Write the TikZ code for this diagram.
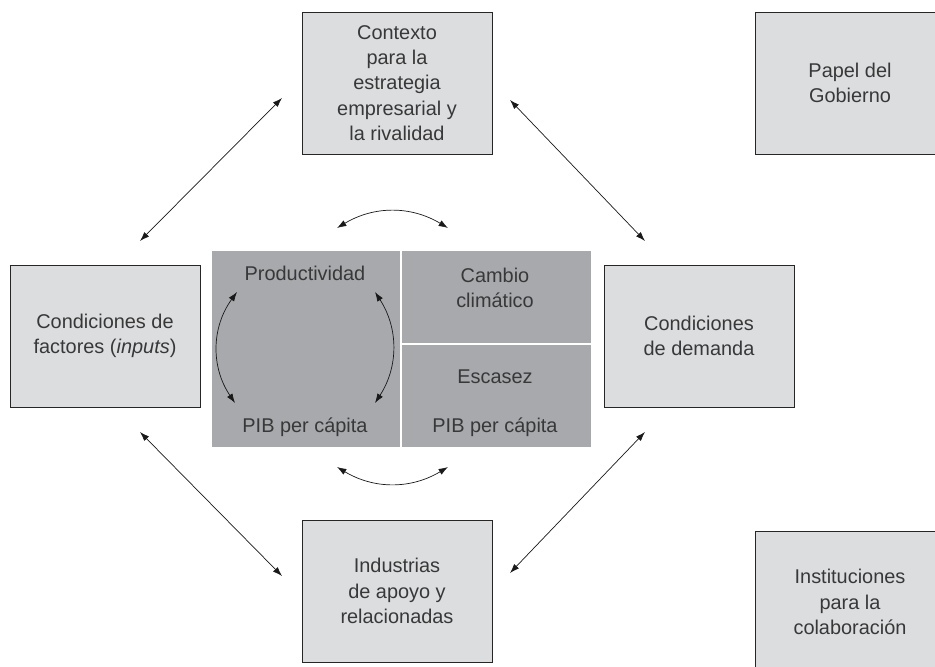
\documentclass[tikz,border=0pt]{standalone}
\usepackage{fontspec}
\setmainfont{Liberation Sans}
\usetikzlibrary{arrows.meta}

\definecolor{boxgray}{HTML}{DCDDDF}
\definecolor{panelgray}{HTML}{A7A9AC}
\definecolor{inkgray}{HTML}{383838}

\tikzset{
    factorbox/.style={draw=black!85, fill=boxgray, line width=0.7pt,
        minimum width=5.7cm, minimum height=4.26cm, inner sep=0pt,
        align=center, text=inkgray, font=\fontsize{17}{21.5}\selectfont},
    cell/.style={fill=panelgray, inner sep=0pt},
    celltext/.style={align=center, text=inkgray, inner sep=0pt,
        font=\fontsize{17}{21.5}\selectfont},
    link/.style={{Latex[length=8pt,width=5.5pt]}-{Latex[length=8pt,width=5.5pt]},
        line width=0.6pt, black!90},
}

\begin{document}
\begin{tikzpicture}[x=0.03cm,y=-0.03cm]
    \clip (0,0) rectangle (935,666);
    % central panel
    \node[cell, minimum width=5.64cm, minimum height=5.88cm] (leftcell) at (306,349) {};
    \node[cell, minimum width=5.67cm, minimum height=2.76cm] (climcell) at (496.5,297) {};
    \node[cell, minimum width=5.67cm, minimum height=3.06cm] (scarcell) at (496.5,396) {};
    \node[celltext] (prod) at (305,273) {Productividad};
    \node[celltext] (pibl) at (305,427) {PIB per cápita};
    \node[celltext] (clim) at (495,288) {Cambio\\climático};
    \node[celltext] (scar) at (495,377) {Escasez};
    \node[celltext] (pibr) at (495,427) {PIB per cápita};
    % the diamond
    \node[factorbox] (context) at (397,83) {Contexto\\para la\\estrategia\\empresarial y\\la rivalidad};
    \node[factorbox] (factors) at (105,336) {Condiciones de\\factores (\textit{inputs})};
    \node[factorbox] (demand) at (699,336) {Condiciones\\de demanda};
    \node[factorbox] (support) at (397,591) {Industrias\\de apoyo y\\relacionadas};
    \node[factorbox] (gov) at (850,83) {Papel del\\Gobierno};
    \node[factorbox] (inst) at (850,602) {Instituciones\\para la\\colaboración};
    % arrow ends
    \coordinate (tl-a) at (140,241);
    \coordinate (tl-b) at (282,98);
    \coordinate (tr-a) at (510,100);
    \coordinate (tr-b) at (645,241);
    \coordinate (bl-a) at (140,432);
    \coordinate (bl-b) at (282,576);
    \coordinate (br-a) at (510,573);
    \coordinate (br-b) at (645,432);
    \coordinate (up-a) at (337,228);
    \coordinate (up-b) at (448,228);
    \coordinate (dn-a) at (337,467);
    \coordinate (dn-b) at (448,467);
    \coordinate (lc-a) at (237,292);
    \coordinate (lc-b) at (235,403);
    \coordinate (rc-a) at (375,292);
    \coordinate (rc-b) at (375,403);
    \draw[link] (tl-a) -- (tl-b);
    \draw[link] (tr-a) -- (tr-b);
    \draw[link] (bl-a) -- (bl-b);
    \draw[link] (br-a) -- (br-b);
    \draw[link] (up-a) to[bend left=31] (up-b);
    \draw[link] (dn-a) to[bend right=31] (dn-b);
    \draw[link] (lc-a) to[bend right=35] (lc-b);
    \draw[link] (rc-a) to[bend left=33] (rc-b);
\end{tikzpicture}
\end{document}
